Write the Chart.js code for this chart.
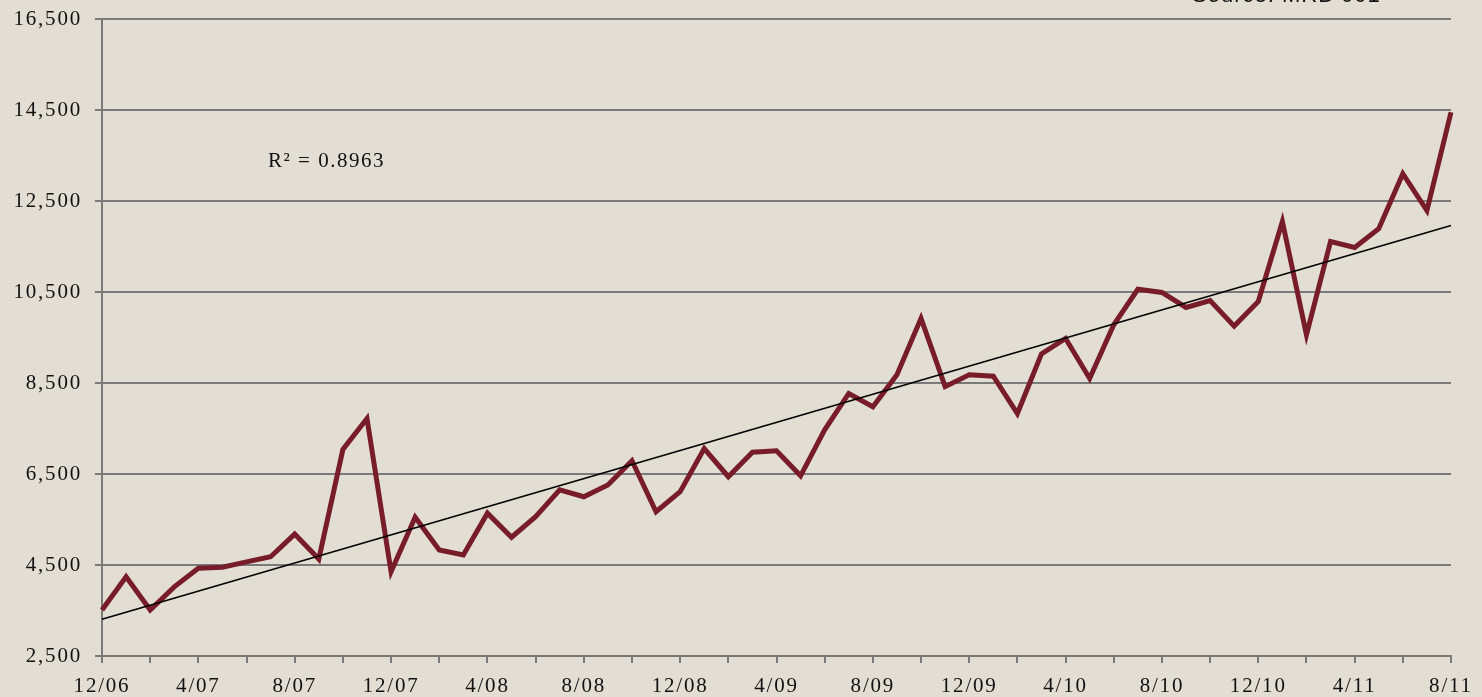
<!DOCTYPE html>
<html>
<head>
<meta charset="utf-8">
<script src="https://cdn.jsdelivr.net/npm/chart.js@4/dist/chart.umd.min.js"></script>
<style>
	html, body { margin:0; padding:0; background:#e3ded3; }
	#wrap { width:1482px; height:697px; position:relative; }
</style>
</head>
<body>
<div id="wrap"><canvas id="chart-1" width="1482" height="697"></canvas></div>
<script>
// monthly categories, 12/06 .. 8/11
var months = [
	'12/06',
	'1/07','2/07','3/07','4/07','5/07','6/07','7/07','8/07','9/07','10/07','11/07','12/07',
	'1/08','2/08','3/08','4/08','5/08','6/08','7/08','8/08','9/08','10/08','11/08','12/08',
	'1/09','2/09','3/09','4/09','5/09','6/09','7/09','8/09','9/09','10/09','11/09','12/09',
	'1/10','2/10','3/10','4/10','5/10','6/10','7/10','8/10','9/10','10/10','11/10','12/10',
	'1/11','2/11','3/11','4/11','5/11','6/11','7/11','8/11'
];

var values = [
	3510,
	4240, 3510, 4020, 4430, 4450, 4570, 4680, 5180, 4630, 7040, 7720, 4350,
	5550, 4830, 4720, 5640, 5110, 5560, 6150, 6000, 6260, 6790, 5670, 6110,
	7060, 6440, 6980, 7010, 6460, 7470, 8270, 7980, 8680, 9920, 8420, 8680,
	8650, 7830, 9140, 9480, 8600, 9780, 10560, 10490, 10160, 10310, 9750, 10290,
	12050, 9560, 11610, 11480, 11890, 13100, 12290, 14450
];

// trend line end values (first and last month)
var trendEnds = [3310, 11960];

var yTicks = [2500, 4500, 6500, 8500, 10500, 12500, 14500, 16500];

var noteText = 'R\u00b2 = 0.8963';
var sourceText = 'Source: MRB 001';

var app = (function(){
	var chart;
	var serif = '"Liberation Serif", serif';

	function init(){
		_createChart();
	}

	function _trendData(){
		var d = [];
		for (var i = 0; i < months.length; i++) d.push(null);
		d[0] = trendEnds[0];
		d[months.length - 1] = trendEnds[1];
		return d;
	}

	// wider letter spacing for the serif labels, like the original
	var spacingPlugin = {
		id: 'spacing',
		beforeDraw: function(c){ c.ctx.letterSpacing = '1.8px'; }
	};

	var textPlugin = {
		id: 'texts',
		afterDraw: function(c){
			var ctx = c.ctx;
			ctx.save();
			ctx.fillStyle = '#111';
			ctx.letterSpacing = '1.5px';
			ctx.font = '21px ' + serif;
			ctx.textBaseline = 'middle';
			ctx.textAlign = 'left';
			ctx.fillText(noteText, 268, 161);
			ctx.letterSpacing = '1px';
			ctx.font = '22px "Liberation Sans", Arial, sans-serif';
			ctx.textBaseline = 'alphabetic';
			ctx.fillText(sourceText, 1192, 2);
			ctx.restore();
		}
	};

	function _createChart(){
		if(chart !== undefined){
			chart.destroy();
		}
		var ctx = document.getElementById('chart-1');
		chart = new Chart(ctx, {
			type: 'line',
			data: {
				labels: months,
				datasets: [{
					data: values,
					borderColor: '#771c28',
					borderWidth: 5,
					pointRadius: 0,
					tension: 0,
					borderJoinStyle: 'miter',
					order: 2
				},{
					data: _trendData(),
					borderColor: '#000',
					borderWidth: 1.6,
					pointRadius: 0,
					spanGaps: true,
					order: 1
				}]
			},
			options: {
				responsive: false,
				animation: false,
				layout: { padding: { left: 0, right: 31, top: 19, bottom: 0 } },
				plugins: {
					legend: { display: false },
					tooltip: { enabled: false }
				},
				scales: {
					x: {
						offset: false,
						border: { color: '#7a7a7a', width: 2 },
						grid: {
							drawOnChartArea: false,
							tickLength: 7,
							lineWidth: 2,
							color: function(c){ return c.index % 2 === 0 ? '#7a7a7a' : 'rgba(0,0,0,0)'; }
						},
						ticks: {
							autoSkip: false,
							maxRotation: 0,
							padding: 11,
							color: '#111',
							font: { family: serif, size: 21 },
							callback: function(v, i){ return i % 4 === 0 ? months[i] : ''; }
						},
						afterFit: function(s){ s.height = 41; s.paddingLeft = 0; s.paddingRight = 0; }
					},
					y: {
						min: 2500,
						max: 16500,
						border: { color: '#7a7a7a', width: 2 },
						grid: { color: '#7a7a7a', lineWidth: 2, tickLength: 7 },
						afterBuildTicks: function(s){
							s.ticks = yTicks.map(function(v){ return { value: v }; });
						},
						ticks: {
							padding: 13,
							color: '#111',
							font: { family: serif, size: 21 },
							callback: function(v){ return v.toLocaleString('en-US'); }
						},
						afterFit: function(s){ s.width = 102; s.paddingTop = 0; s.paddingBottom = 0; }
					}
				}
			},
			plugins: [spacingPlugin, textPlugin]
		});
	}

	return { init: init };
})();

app.init();
</script>
</body>
</html>
